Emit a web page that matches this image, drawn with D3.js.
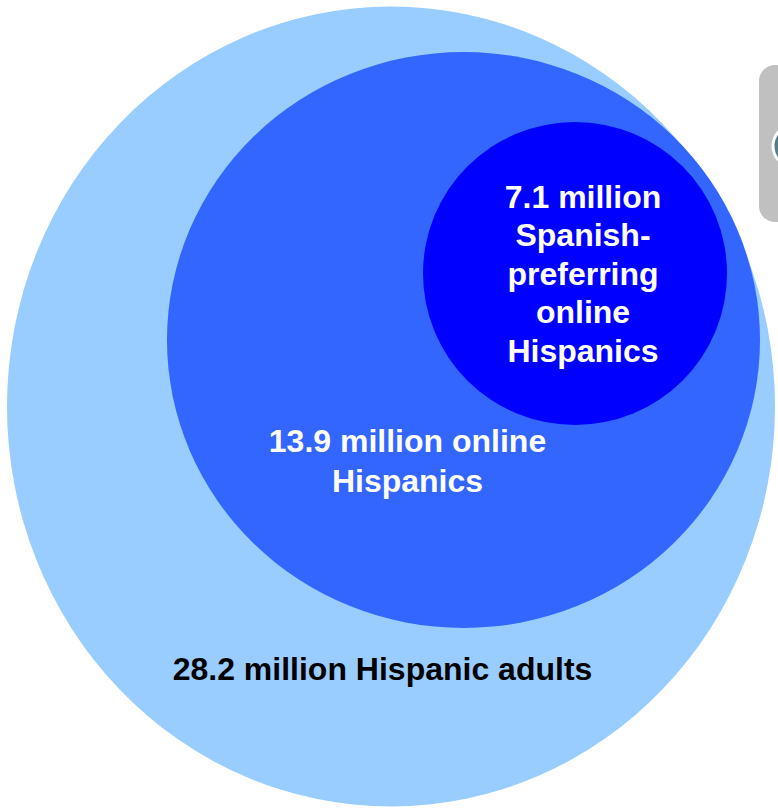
<!DOCTYPE html>
<html>
<head>
<meta charset="utf-8">
<script src="https://cdn.jsdelivr.net/npm/d3@7"></script>
<style>
  html, body { margin: 0; padding: 0; background: #ffffff; }
  svg { display: block; }
</style>
</head>
<body>
<div id="chart"></div>
<script>
// Nested audience groups, outermost first (millions of people)
const groups = ["Hispanic adults", "online Hispanics", "Spanish-preferring online Hispanics"];
const values = [28.2, 13.9, 7.1];
const labelLines = [
  ["28.2 million Hispanic adults"],
  ["13.9 million online", "Hispanics"],
  ["7.1 million", "Spanish-", "preferring", "online", "Hispanics"]
];

const W = 778, H = 808;

// Layout of each ellipse and its label (kept separate from the data)
const layout = [
  { cx: 391, cy: 406.5, rx: 384, ry: 400, fill: "#99ccff", text: "#000000", lx: 382.5, ly: 680, lh: 38.4 },
  { cx: 463.5, cy: 340, rx: 296.5, ry: 288, fill: "#3366ff", text: "#ffffff", lx: 407.5, ly: 452, lh: 40 },
  { cx: 575, cy: 273.5, rx: 152, ry: 151.5, fill: "#0000ff", text: "#ffffff", lx: 583, ly: 208, lh: 38.4 }
];

const svg = d3.select("#chart").append("svg")
  .attr("width", W).attr("height", H)
  .attr("viewBox", `0 0 ${W} ${H}`);

const data = groups.map((g, i) => ({ name: g, value: values[i], lines: labelLines[i], ...layout[i] }));

// Circles
svg.append("g").selectAll("ellipse")
  .data(data)
  .join("ellipse")
  .attr("cx", d => d.cx)
  .attr("cy", d => d.cy)
  .attr("rx", d => d.rx)
  .attr("ry", d => d.ry)
  .attr("fill", d => d.fill);

// Labels
const labels = svg.append("g")
  .attr("font-family", "'Liberation Sans', Arial, Helvetica, sans-serif")
  .attr("font-weight", "bold")
  .attr("font-size", 32)
  .attr("text-anchor", "middle");

labels.selectAll("text")
  .data(data)
  .join("text")
  .attr("fill", d => d.text)
  .each(function(d) {
    d3.select(this).selectAll("tspan")
      .data(d.lines)
      .join("tspan")
      .attr("x", d.lx)
      .attr("y", (t, j) => d.ly + j * d.lh)
      .text(t => t);
  });

// Partially visible callout panel at the right edge
const panel = svg.append("g");
panel.append("rect")
  .attr("x", 759).attr("y", 65)
  .attr("width", 60).attr("height", 157)
  .attr("rx", 16).attr("ry", 16)
  .attr("fill", "#c0c0c0");
panel.append("circle")
  .attr("cx", 794).attr("cy", 146)
  .attr("r", 21)
  .attr("fill", "#587e8e")
  .attr("stroke", "#ffffff")
  .attr("stroke-width", 3);
</script>
</body>
</html>
